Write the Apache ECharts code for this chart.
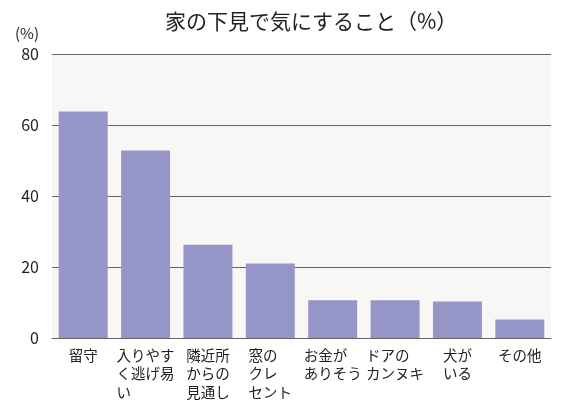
<!DOCTYPE html>
<html>
<head>
<meta charset="utf-8">
<script src="https://cdn.jsdelivr.net/npm/echarts@6/dist/echarts.min.js"></script>
<style>html,body{margin:0;padding:0;background:#fff;}#c{width:580px;height:409px;}</style>
</head>
<body>
<div id="c"></div>
<script>
var titleText = '家の下見で気にすること（%）';
var categories = ['留守', '入りやす\nく逃げ易\nい', '隣近所\nからの\n見通し', '窓の\nクレ\nセント', 'お金が\nありそう', 'ドアの\nカンヌキ', '犬が\nいる', 'その他'];
var values = [63.8, 52.8, 26.3, 21.0, 10.6, 10.6, 10.3, 5.2];
var yTicks = [0, 20, 40, 60, 80];
var yName = '(%)';

var FONT = '"Noto Sans CJK JP", "Noto Sans", sans-serif';

function padLines(s) {
  var lines = s.split('\n');
  var max = 0;
  lines.forEach(function (l) { if (l.length > max) max = l.length; });
  return lines.map(function (l) {
    while (l.length < max) l += '\u3000';
    return l;
  }).join('\n');
}

var chart = echarts.init(document.getElementById('c'));
chart.setOption({
  backgroundColor: '#ffffff',
  title: {
    text: titleText,
    left: 160,
    top: 6,
    textStyle: { fontFamily: FONT, fontSize: 21, fontWeight: 'normal', color: '#222' }
  },
  grid: {
    left: 52, right: 29, top: 54, bottom: 71,
    show: true, backgroundColor: '#f9f7f6', borderWidth: 0
  },
  xAxis: {
    type: 'category',
    data: categories,
    axisLine: { show: true, lineStyle: { color: '#666', width: 1 } },
    axisTick: { show: false },
    axisLabel: {
      interval: 0,
      margin: 8,
      fontFamily: FONT,
      fontSize: 14.5,
      lineHeight: 18.5,
      color: '#222',
      formatter: function (v) { return padLines(v); }
    }
  },
  yAxis: {
    type: 'value',
    min: yTicks[0],
    max: yTicks[yTicks.length - 1],
    interval: 20,
    name: yName,
    nameLocation: 'end',
    nameGap: 13,
    nameTextStyle: { fontFamily: FONT, fontSize: 15, color: '#222', align: 'right', padding: [0, 13, 0, 0] },
    axisLine: { show: false },
    axisTick: { show: false },
    axisLabel: { margin: 13, fontFamily: FONT, fontSize: 16, color: '#222' },
    splitLine: { show: true, lineStyle: { color: '#666', width: 1 } }
  },
  series: [{
    type: 'bar',
    data: values,
    barCategoryGap: '21.5%',
    itemStyle: { color: '#9595c8' },
    silent: true
  }],
  animation: false
});
</script>
</body>
</html>
